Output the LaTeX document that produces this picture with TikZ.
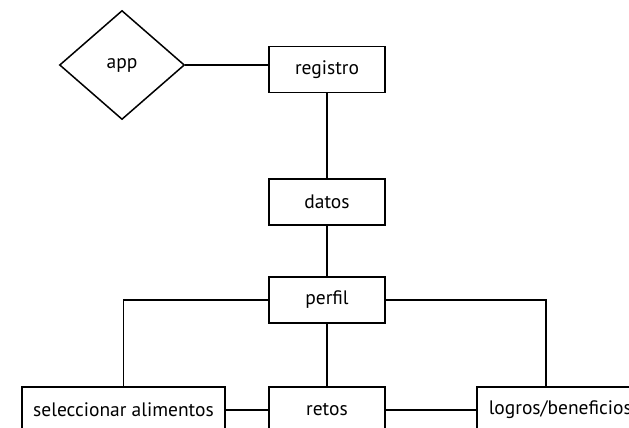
\documentclass[tikz,border=0pt]{standalone}
\usepackage{fontspec}
\setmainfont{PT Sans}
\usetikzlibrary{shapes.geometric}
\begin{document}
\begin{tikzpicture}[x=1pt,y=-1pt,
                    line width=1.5pt,
                    main node/.style={rectangle,draw,minimum width=116pt,minimum height=46pt,inner sep=0pt,font=\fontsize{19.5}{23}\selectfont},
                    wide node/.style={main node,minimum width=203pt},
                    rel node/.style={diamond,draw,minimum width=125pt,minimum height=109pt,inner sep=0pt,font=\fontsize{19.5}{23}\selectfont}]

    \clip (0,0) rectangle (629,428);

    % Define vertices
    \node[rel node] (app) at (122,65) {app};
    \node[main node] (reg) at (327,69.5) {registro};
    \node[main node] (datos) at (327,202) {datos};
    \node[main node] (perfil) at (327,300) {perfil};
    \node[wide node] (sel) at (123.5,410) {seleccionar alimentos};
    \node[main node] (retos) at (327,410) {retos};
    \node[main node,anchor=west,minimum width=174pt,align=left,text width=150pt] (logros) at (476,410) {logros/beneficios};
    \coordinate (lgtop) at (546,387);

    % Define edges
    \draw (app.east) -- (app.east -| reg.west);
    \draw (reg) -- (datos);
    \draw (datos) -- (perfil);
    \draw (perfil) -- (retos);
    \draw (perfil.west) -| (sel.north);
    \draw (perfil.east) -| (lgtop);
    \draw (sel) -- (retos);
    \draw (retos) -- (logros);

\end{tikzpicture}
\end{document}
